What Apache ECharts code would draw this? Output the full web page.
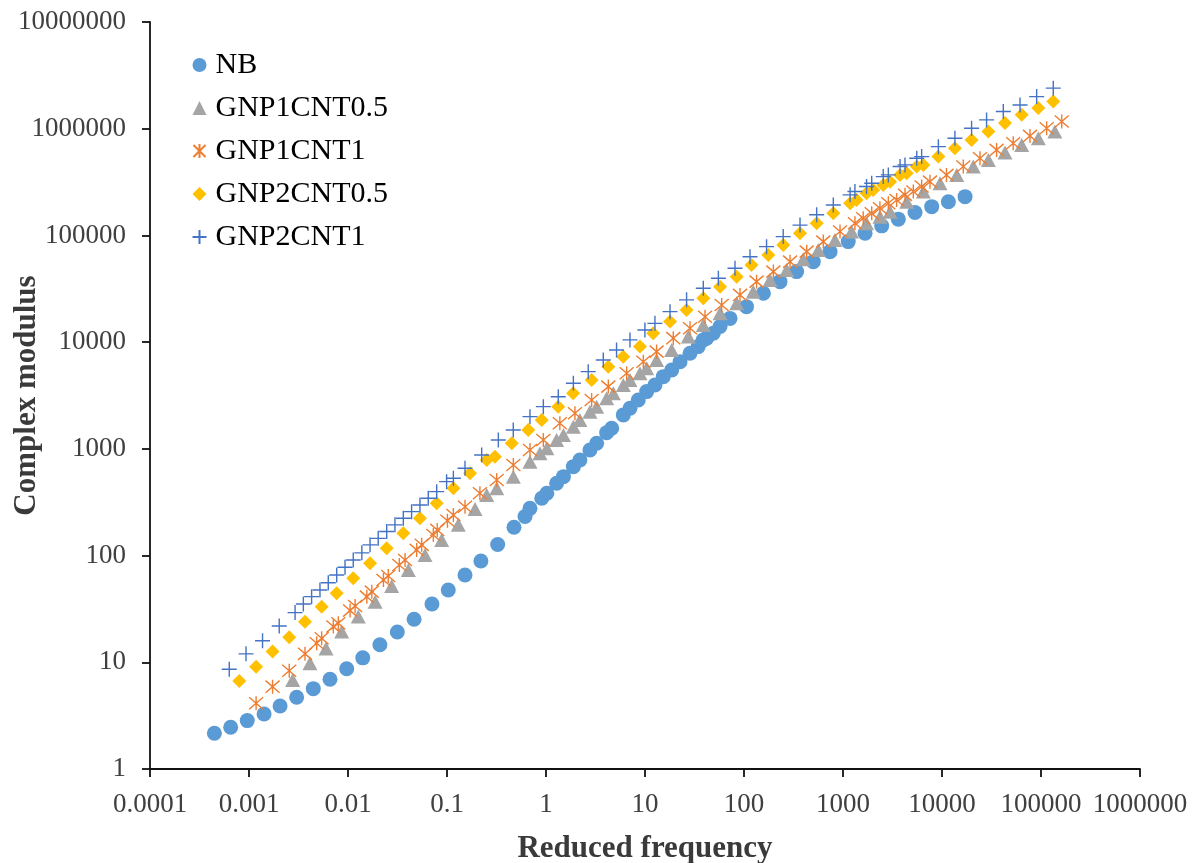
<!DOCTYPE html>
<html>
<head>
<meta charset="utf-8">
<script src="https://cdn.jsdelivr.net/npm/echarts@6/dist/echarts.min.js"></script>
<style>html,body{margin:0;padding:0;background:#fff}#c{width:1200px;height:863px}</style>
</head>
<body>
<div id="c"></div>
<script>
var xTickLabels = ['0.0001','0.001','0.01','0.1','1','10','100','1000','10000','100000','1000000'];
var yTickLabels = ['1','10','100','1000','10000','100000','1000000','10000000'];
var seriesNames = ['NB','GNP1CNT0.5','GNP1CNT1','GNP2CNT0.5','GNP2CNT1'];

var NB = [[4.47e-4,2.16],[6.53e-4,2.46],[9.6e-4,2.84],[1.42e-3,3.28],[2.06e-3,3.89],[3.03e-3,4.70],[4.46e-3,5.66],[6.58e-3,6.93],[9.7e-3,8.71],[0.0141,11.0],[0.021,14.6],[0.0315,19.2],[0.0465,25.3],[0.0705,35.2],[0.103,47.6],[0.152,65.8],[0.22,89],[0.325,127],[0.475,184],[0.614,232],[0.689,277],[0.906,344],[1.02,384],[1.28,476],[1.5,549],[1.89,681],[2.2,787],[2.78,977],[3.25,1128],[4.1,1419],[4.61,1560],[6.04,2080],[7.05,2400],[8.55,2870],[10.4,3440],[12.6,3970],[15.3,4750],[18.6,5490],[22.6,6560],[28.5,7870],[34.5,9080],[38.8,10500],[42,10900],[49,12100],[57.3,14000],[72.3,16700],[106,21500],[157,28700],[231,36900],[340,45800],[501,56800],[740,70500],[1130,87500],[1670,105000],[2460,123000],[3620,142000],[5340,164000],[7870,186000],[11600,207000],[17100,231000]];

var GNP1CNT05 = [[2.76e-3,6.83],[4.13e-3,9.79],[6.0e-3,13.5],[8.63e-3,19.4],[0.0127,26.8],[0.0188,37.0],[0.0276,51.9],[0.0407,73.3],[0.060,101],[0.0883,140],[0.130,194],[0.192,273],[0.252,370],[0.318,427],[0.468,549],[0.689,759],[0.869,909],[1.02,1013],[1.28,1212],[1.5,1350],[1.89,1615],[2.2,1866],[2.78,2232],[3.25,2487],[4.1,2980],[4.79,3320],[6.04,3970],[7.05,4420],[8.89,5110],[10.4,5690],[13.1,6810],[18.6,8450],[27.4,11300],[38.8,14500],[57.3,18700],[84.4,23200],[124,29700],[183,38300],[270,47500],[397,59800],[563,73100],[830,90800],[1220,109000],[1730,130000],[2360,150000],[2990,167000],[4400,207000],[6480,258000],[9550,308000],[14100,369000],[20700,442000],[29400,510000],[43300,597000],[63800,705000],[94000,815000],[138000,940000]];

var GNP1CNT1 = [[1.18e-3,4.13],[1.73e-3,5.91],[2.55e-3,8.34],[3.68e-3,12.0],[4.83e-3,15.1],[5.42e-3,16.8],[7.11e-3,21.6],[7.98e-3,23.2],[0.0105,30.5],[0.0118,33.7],[0.0155,41.2],[0.0174,45.9],[0.0228,59.1],[0.0255,64.4],[0.033,81.6],[0.0377,91],[0.0494,113],[0.0555,126],[0.0728,156],[0.0797,174],[0.101,212],[0.116,240],[0.152,287],[0.215,384],[0.318,511],[0.468,706],[0.689,977],[0.94,1212],[1.38,1738],[1.96,2157],[2.89,2870],[4.26,3830],[6.53,5110],[9.62,6560],[13.1,8150],[19.3,10900],[28.5,13500],[40.4,17300],[59.5,22300],[91.2,27700],[134,36900],[198,45800],[292,56800],[430,70500],[632,87500],[933,109000],[1320,130000],[1600,145000],[1950,161000],[2360,180000],[2870,200000],[3480,215000],[4230,240000],[5130,258000],[6230,287000],[7560,319000],[11100,369000],[16400,442000],[24200,529000],[35600,633000],[52400,731000],[77400,856000],[114000,1010000],[162000,1170000]];

var GNP2CNT05 = [[7.98e-4,6.68],[1.18e-3,9.09],[1.73e-3,12.6],[2.55e-3,17.2],[3.68e-3,24.0],[5.42e-3,33.2],[7.69e-3,44.3],[0.0113,61.3],[0.0167,84.7],[0.0246,117],[0.0362,162],[0.0533,224],[0.0787,309],[0.116,427],[0.171,590],[0.252,787],[0.305,845],[0.451,1128],[0.662,1503],[0.904,1866],[1.33,2487],[1.88,3320],[2.89,4420],[4.26,5890],[6.03,7310],[8.89,9080],[12.1,12100],[17.9,15600],[26.3,20000],[38.8,25800],[57.3,33100],[84.4,41100],[119,52900],[176,65600],[249,81500],[368,105000],[542,130000],[798,161000],[1180,200000],[1370,215000],[1730,249000],[2020,267000],[2550,297000],[2990,319000],[3770,369000],[4400,383000],[5560,442000],[6480,458000],[9190,548000],[13500,656000],[19900,785000],[29400,940000],[43300,1130000],[63800,1350000],[94000,1560000],[133000,1800000]];

var GNP2CNT1 = [[6.32e-4,8.6],[9.33e-4,12.0],[1.37e-3,15.9],[2.02e-3,21.9],[2.92e-3,29.2],[3.54e-3,35.2],[4.29e-3,41.2],[5.21e-3,47.6],[6.32e-3,55.7],[7.69e-3,65.8],[9.33e-3,77.7],[0.0113,91],[0.0138,106],[0.0167,126],[0.0202,145],[0.0246,168],[0.0298,194],[0.0362,224],[0.0439,258],[0.0533,298],[0.0647,344],[0.0787,397],[0.0991,493],[0.116,530],[0.152,658],[0.224,877],[0.330,1212],[0.467,1503],[0.689,2003],[0.94,2487],[1.33,3080],[1.89,4120],[2.67,5290],[3.79,6810],[5.16,8450],[7.05,10500],[9.98,13000],[12.6,15000],[17.9,19300],[26.3,24900],[38.8,32000],[55.1,39700],[81.1,49300],[115,63200],[169,78500],[249,97500],[368,125000],[542,156000],[798,193000],[1180,240000],[1320,258000],[1730,287000],[1950,308000],[2550,356000],[2870,369000],[3770,442000],[4230,458000],[5560,529000],[6230,548000],[9190,679000],[13500,815000],[19900,1010000],[28200,1210000],[41600,1450000],[61400,1670000],[90400,2000000],[133000,2400000]];

var FONT = '"Liberation Serif","Times New Roman",serif';
var plusPath = 'path://M0,5 L10,5 M5,0 L5,10';
var starPath = 'path://M5,0 L5,10 M0.7,0.7 L9.3,9.3 M9.3,0.7 L0.7,9.3';

function xLab(v){ return xTickLabels[Math.round(Math.log10(v)) + 4] || ''; }
function yLab(v){ return yTickLabels[Math.round(Math.log10(v))] || ''; }

var chart = echarts.init(document.getElementById('c'), null, {renderer:'canvas'});
chart.setOption({
  animation:false,
  backgroundColor:'#fff',
  grid:{left:150,right:60,top:22,bottom:94,containLabel:false,outerBoundsMode:'none'},
  legend:{
    orient:'vertical', left:185, top:45, itemGap:13, itemWidth:14, itemHeight:14,
    textStyle:{fontFamily:FONT,fontSize:30,lineHeight:30,color:'#000',padding:[0,0,0,4]},
    data:seriesNames
  },
  xAxis:{
    type:'log', logBase:10, min:1e-4, max:1e6,
    name:'Reduced frequency', nameLocation:'middle', nameGap:64, nameMoveOverlap:false,
    nameTextStyle:{fontFamily:FONT,fontSize:31,fontWeight:'bold',color:'#3a3a3a'},
    axisLine:{lineStyle:{color:'#111',width:1.8}},
    axisTick:{show:true,length:8,inside:false,lineStyle:{color:'#111',width:1.8}},
    minorTick:{show:false}, splitLine:{show:false},
    axisLabel:{fontFamily:FONT,fontSize:27,color:'#404040',margin:22,formatter:xLab}
  },
  yAxis:{
    type:'log', logBase:10, min:1, max:1e7,
    name:'Complex modulus', nameLocation:'middle', nameGap:108, nameRotate:90, nameMoveOverlap:false,
    nameTextStyle:{fontFamily:FONT,fontSize:31,fontWeight:'bold',color:'#3a3a3a'},
    axisLine:{show:true,lineStyle:{color:'#111',width:1.8}},
    axisTick:{show:true,length:8,lineStyle:{color:'#111',width:1.8}},
    splitLine:{show:false},
    axisLabel:{fontFamily:FONT,fontSize:27,color:'#404040',margin:24,formatter:yLab}
  },
  series:[
    {name:'NB',type:'scatter',data:NB,symbol:'circle',symbolSize:15,itemStyle:{color:'#5B9BD5',opacity:1}},
    {name:'GNP1CNT0.5',type:'scatter',data:GNP1CNT05,symbol:'triangle',symbolSize:[15,14],itemStyle:{color:'#A5A5A5',opacity:1}},
    {name:'GNP1CNT1',type:'scatter',data:GNP1CNT1,symbol:starPath,symbolSize:14,itemStyle:{color:'none',borderColor:'#ED7D31',borderWidth:1.4,opacity:1}},
    {name:'GNP2CNT0.5',type:'scatter',data:GNP2CNT05,symbol:'diamond',symbolSize:[14,14],itemStyle:{color:'#FFC000',opacity:1}},
    {name:'GNP2CNT1',type:'scatter',data:GNP2CNT1,symbol:plusPath,symbolSize:15,itemStyle:{color:'none',borderColor:'#4472C4',borderWidth:1.4,opacity:1}}
  ]
});
</script>
</body>
</html>
